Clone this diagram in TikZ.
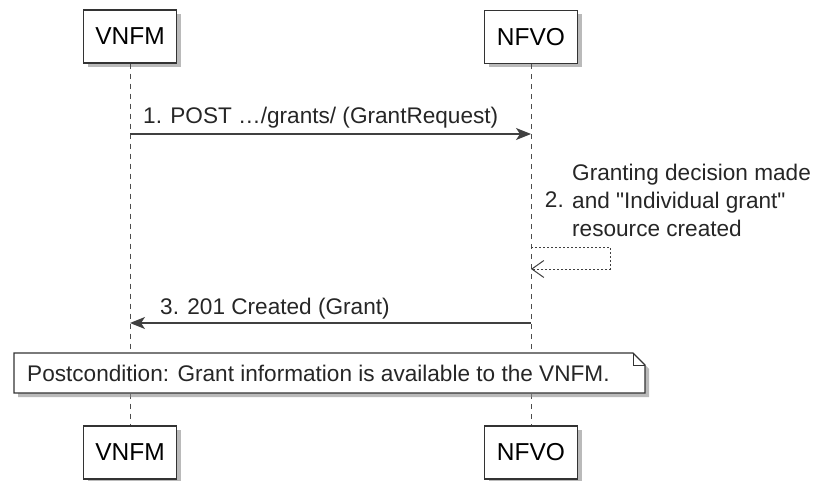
\documentclass[tikz,border=0pt]{standalone}
\usepackage{fontspec}
\setmainfont{Liberation Sans}[Ligatures=TeXOff]
\usetikzlibrary{arrows.meta, positioning, calc, shadows}

\begin{document}
\begin{tikzpicture}[x=1pt, y=-1pt,
  actor/.style={draw=black!80, line width=1.3pt, fill=white, minimum width=93pt, minimum height=53pt,
    font=\fontsize{24.5}{28}\selectfont,
    drop shadow={shadow xshift=4pt, shadow yshift=-4pt, fill=black!45, opacity=0.6}},
  lifeline/.style={draw=black!70, line width=0.9pt, dash pattern=on 5pt off 5pt},
  msg/.style={font=\fontsize{22.6}{28}\selectfont, text=black!85, inner sep=0pt},
  call/.style={draw=black!75, line width=1.3pt, -{Stealth[length=15pt, width=12pt, inset=4pt]}},
  reply/.style={draw=black!75, line width=1pt, dash pattern=on 2pt off 2pt, -{Straight Barb[length=12pt, width=17pt]}}
]
  \useasboundingbox (0,0) rectangle (819,481);

  % Participants
  \node[actor] (vnfmTop) at (130,36.5) {VNFM};
  \node[actor] (nfvoTop) at (531,37) {NFVO};
  \node[actor] (vnfmBot) at (130,452.5) {VNFM};
  \node[actor] (nfvoBot) at (531,452.5) {NFVO};

  % Lifelines
  \draw[lifeline] (vnfmTop) -- (vnfmBot);
  \draw[lifeline] (nfvoTop) -- (nfvoBot);

  % Message points on the lifelines
  \coordinate (v1) at (vnfmTop |- 0,134);
  \coordinate (n1) at (nfvoTop |- 0,134);
  \coordinate (n2a) at (nfvoTop |- 0,247);
  \coordinate (n2b) at (nfvoTop |- 0,269);
  \coordinate (v3) at (vnfmTop |- 0,323);
  \coordinate (n3) at (nfvoTop |- 0,323);

  % 1. request
  \draw[call] (v1) -- (n1);
  \node[msg, anchor=base west] (lbl1) at (143,124) {1. POST …/grants/ (GrantRequest)};

  % 2. self message
  \node[msg, anchor=west, align=left] (lbl2) at (572,200) {Granting decision made\\and "Individual grant"\\resource created};
  \node[msg, anchor=east] (num2) at ([xshift=-8pt]lbl2.west) {2.};
  \draw[reply] (n2a) -- ++(79,0) |- (n2b);

  % 3. response
  \draw[call] (n3) -- (v3);
  \node[msg, anchor=base west] (lbl3) at (160,314) {3. 201 Created (Grant)};

  % Note
  \fill[black!45, opacity=0.6] (18,357) -- (637,357) -- (649,369) -- (649,397) -- (18,397) -- cycle;
  \draw[black!80, line width=1.2pt, fill=white] (14,353) -- (633,353) -- (645,365) -- (645,393) -- (14,393) -- cycle;
  \draw[black!80, line width=1pt] (633,353) -- (633,365) -- (645,365);
  \node[msg, anchor=west] (note) at (27,373) {Postcondition: Grant information is available to the VNFM.};
\end{tikzpicture}
\end{document}
